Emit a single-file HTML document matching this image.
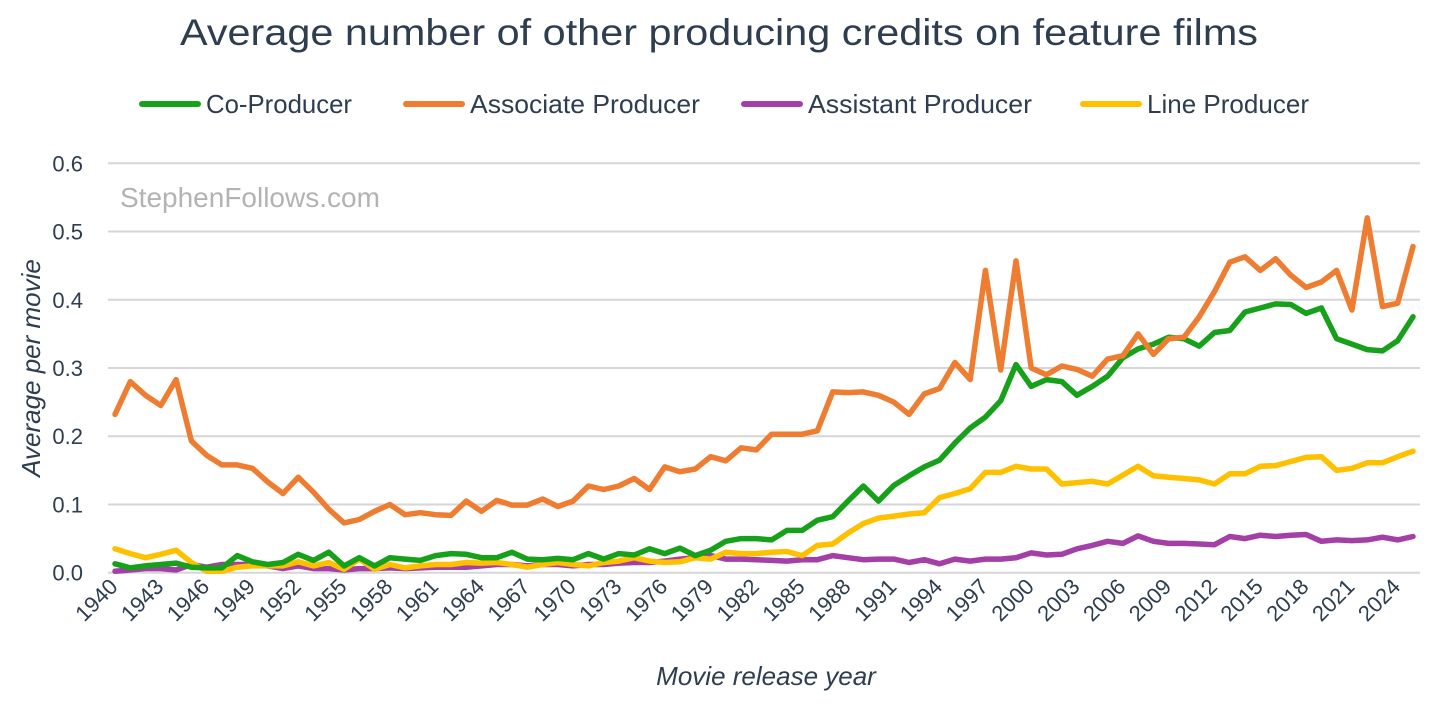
<!DOCTYPE html>
<html><head><meta charset="utf-8"><style>
body{margin:0;background:#fff;}
svg{display:block;font-family:"Liberation Sans",sans-serif;}
</style></head><body>
<svg id="chart" width="1456" height="707">
<text x="180" y="45" textLength="1078" lengthAdjust="spacingAndGlyphs" font-size="37" fill="#2e3d4f">Average number of other producing credits on feature films</text>
<g id="legend"></g>
<text x="120" y="207" font-size="28" fill="#b3b3b3">StephenFollows.com</text>
<g id="grid"></g><g id="yticks"></g><g id="xticks"></g><g id="lines"></g>
<text transform="translate(40,368) rotate(-90)" text-anchor="middle" font-size="26" font-style="italic" fill="#2e3d4f">Average per movie</text>
<text x="766" y="685" text-anchor="middle" font-size="26" font-style="italic" fill="#2e3d4f">Movie release year</text>
</svg>
<script>
const startYear = 1940;
const yTicks = [0, 0.1, 0.2, 0.3, 0.4, 0.5, 0.6];
const seriesNames = ["Co-Producer", "Associate Producer", "Assistant Producer", "Line Producer"];
const coProducer = [.013,.007,.01,.012,.014,.008,.007,.007,.025,.016,.012,.015,.027,.018,.03,.01,.022,.01,.022,.02,.018,.025,.028,.027,.022,.022,.03,.02,.019,.021,.019,.028,.02,.028,.026,.035,.028,.036,.025,.033,.046,.05,.05,.048,.062,.062,.077,.082,.105,.127,.105,.128,.142,.155,.165,.19,.212,.228,.252,.305,.273,.283,.28,.26,.273,.288,.315,.328,.335,.345,.343,.332,.352,.355,.382,.388,.394,.393,.38,.388,.343,.335,.327,.325,.34,.375];
const associateProducer = [.232,.28,.26,.245,.283,.193,.172,.158,.158,.153,.133,.116,.14,.118,.093,.073,.078,.09,.1,.085,.088,.085,.084,.105,.09,.106,.099,.099,.108,.097,.105,.127,.122,.127,.138,.122,.155,.148,.152,.17,.164,.183,.18,.203,.203,.203,.208,.265,.264,.265,.26,.25,.232,.262,.27,.308,.283,.443,.297,.457,.3,.29,.303,.298,.288,.313,.318,.35,.32,.343,.345,.375,.412,.455,.463,.443,.46,.436,.418,.426,.443,.385,.52,.39,.395,.478];
const assistantProducer = [.002,.004,.006,.006,.004,.012,.008,.012,.012,.012,.01,.006,.01,.006,.006,.004,.006,.006,.007,.006,.007,.008,.008,.008,.01,.012,.012,.01,.012,.012,.01,.012,.012,.014,.015,.015,.017,.02,.022,.025,.02,.02,.019,.018,.017,.019,.019,.025,.022,.019,.02,.02,.015,.019,.013,.02,.017,.02,.02,.022,.029,.026,.027,.035,.04,.046,.043,.054,.046,.043,.043,.042,.041,.053,.05,.055,.053,.055,.056,.046,.048,.047,.048,.052,.048,.053];
const lineProducer = [.035,.028,.022,.027,.033,.015,.002,.002,.008,.01,.01,.01,.016,.01,.015,.005,.02,.005,.012,.007,.01,.012,.012,.015,.014,.015,.012,.008,.012,.015,.012,.01,.015,.017,.022,.017,.015,.016,.022,.02,.03,.028,.028,.03,.031,.025,.04,.042,.058,.072,.08,.083,.086,.088,.11,.116,.123,.147,.147,.156,.152,.152,.13,.132,.134,.13,.143,.156,.142,.14,.138,.136,.13,.145,.145,.156,.157,.163,.169,.17,.15,.153,.161,.161,.17,.178];
const seriesData = [coProducer, associateProducer, assistantProducer, lineProducer];
const colors = ["#17a11a", "#ee7d31", "#a43fa8", "#ffc000"];
const NS = "http://www.w3.org/2000/svg";
const X0 = 115, X1 = 1413, Y0 = 572.7, Y1 = 163.3;
const n = coProducer.length;
function xs(i){ return X0 + (X1 - X0) * i / (n - 1); }
function ys(v){ return Y0 - (Y0 - Y1) * v / 0.6; }
function mk(tag, attrs, parent){ const e = document.createElementNS(NS, tag); for (const k in attrs) e.setAttribute(k, attrs[k]); parent.appendChild(e); return e; }
const grid = document.getElementById('grid'), yt = document.getElementById('yticks'), xt = document.getElementById('xticks'), lines = document.getElementById('lines'), legend = document.getElementById('legend');
yTicks.forEach(t => {
  const l = mk('line', {x1:108, x2:1420, y1:ys(t), y2:ys(t), stroke:'#d6d6d6', 'stroke-width':2}, grid);
  
  
  const tx = mk('text', {x:83, y:ys(t)+8, 'text-anchor':'end', 'font-size':22, fill:'#2e3d4f'}, yt);
  tx.textContent = t.toFixed(1);
  
  
});
for (let i = 0; i < n; i += 3) {
  const x = xs(i) + 4, y = 588;
  const tx = mk('text', {x:x, y:y, 'text-anchor':'end', 'font-size':22, fill:'#2e3d4f', transform:`rotate(-45 ${x} ${y})`}, xt);
  tx.textContent = String(startYear + i);
  
  
}
[2, 3, 0, 1].forEach(s => {
  const d = seriesData[s].map((v, i) => (i ? 'L' : 'M') + xs(i).toFixed(1) + ',' + ys(v).toFixed(1)).join('');
  const p = mk('path', {d:d, fill:'none', stroke:colors[s], 'stroke-width':5.5, 'stroke-linejoin':'round', 'stroke-linecap':'round'}, lines);
  
  
});
const legX = [142, 406, 744, 1083];
const legW = [146, 230, 224, 162];
seriesNames.forEach((name, s) => {
  const g = mk('g', {}, legend);
  
  
  mk('line', {x1:legX[s], x2:legX[s]+56, y1:104, y2:104, stroke:colors[s], 'stroke-width':6, 'stroke-linecap':'round'}, g);
  const t = mk('text', {x:legX[s]+64, y:113, 'font-size':26, fill:'#2e3d4f', textLength:legW[s], lengthAdjust:'spacingAndGlyphs'}, g);
  t.textContent = name;
});
</script>
</body></html>
